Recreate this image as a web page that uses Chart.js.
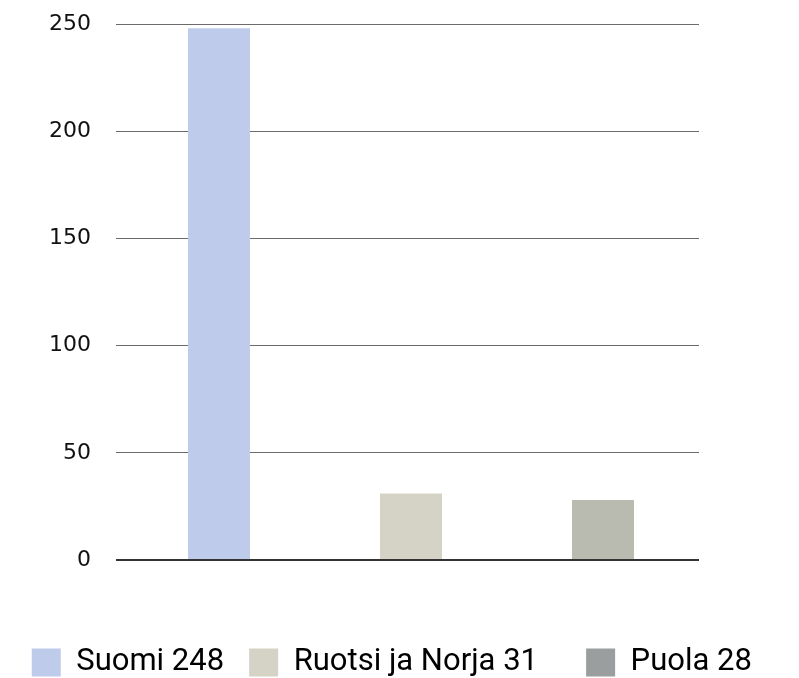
<!DOCTYPE html>
<html>
<head>
<meta charset="utf-8">
<script src="https://cdn.jsdelivr.net/npm/chart.js@4"></script>
<style>
  html, body { margin: 0; padding: 0; background: #fff; }
  #wrap { width: 799px; height: 678px; }
</style>
</head>
<body>
<div id="wrap"><canvas id="myChart"></canvas></div>
<script>
// data
const categories = ['Suomi', 'Ruotsi ja Norja', 'Puola'];
const values = [248, 31, 28];
const yTicks = [0, 50, 100, 150, 200, 250];

// colours
const barColors = ['#bfcbeb', '#d5d3c5', '#b9bab0'];
const legendColors = ['#bfcbeb', '#d5d3c5', '#9a9e9f'];

// trailing spaces widen the gap between legend items
const legendGaps = ['   ', '      ', '  '];

const ctx = document.getElementById('myChart').getContext('2d');
const myChart = new Chart(ctx, {
    type: 'bar',
    data: {
        labels: categories,
        datasets: [{
            data: values,
            backgroundColor: barColors,
            borderWidth: 0,
            categoryPercentage: 1,
            barPercentage: 0.323
        }]
    },
    options: {
        responsive: true,
        maintainAspectRatio: false,
        animation: false,
        layout: {
            padding: { top: 24, right: 0, left: 0, bottom: -10 }
        },
        scales: {
            y: {
                min: 0,
                max: 250,
                afterBuildTicks: axis => { axis.ticks = yTicks.map(v => ({ value: v })); },
                afterFit: axis => {
                    axis.width = 123;
                    axis.paddingTop = 0;
                    axis.paddingBottom = 0;
                },
                border: { display: false },
                grid: {
                    drawTicks: true,
                    tickLength: 7,
                    color: c => c.tick && c.tick.value === 0 ? '#333333' : '#6b6b6b',
                    lineWidth: c => c.tick && c.tick.value === 0 ? 2 : 1
                },
                ticks: {
                    padding: 25,
                    color: '#111',
                    font: { family: 'DejaVu Sans', size: 22 }
                }
            },
            // empty right axis, only keeps space on the right of the plot
            yRight: {
                position: 'right',
                min: 0,
                max: 250,
                border: { display: false },
                grid: { display: false },
                ticks: { display: false },
                afterFit: axis => {
                    axis.width = 100;
                    axis.paddingTop = 0;
                    axis.paddingBottom = 0;
                }
            },
            x: {
                border: { display: false },
                grid: { display: false },
                ticks: { display: false },
                afterFit: axis => { axis.height = 85; }
            }
        },
        plugins: {
            tooltip: { enabled: false },
            legend: {
                position: 'bottom',
                onClick: null,
                labels: {
                    boxWidth: 29,
                    boxHeight: 28,
                    padding: 2,
                    color: '#111',
                    font: { family: 'Roboto', size: 31 },
                    generateLabels: chart => categories.map((c, i) => ({
                        text: c + ' ' + values[i] + legendGaps[i],
                        fillStyle: legendColors[i],
                        strokeStyle: legendColors[i],
                        lineWidth: 0,
                        hidden: false,
                        index: i
                    }))
                }
            }
        }
    }
});
</script>
</body>
</html>
